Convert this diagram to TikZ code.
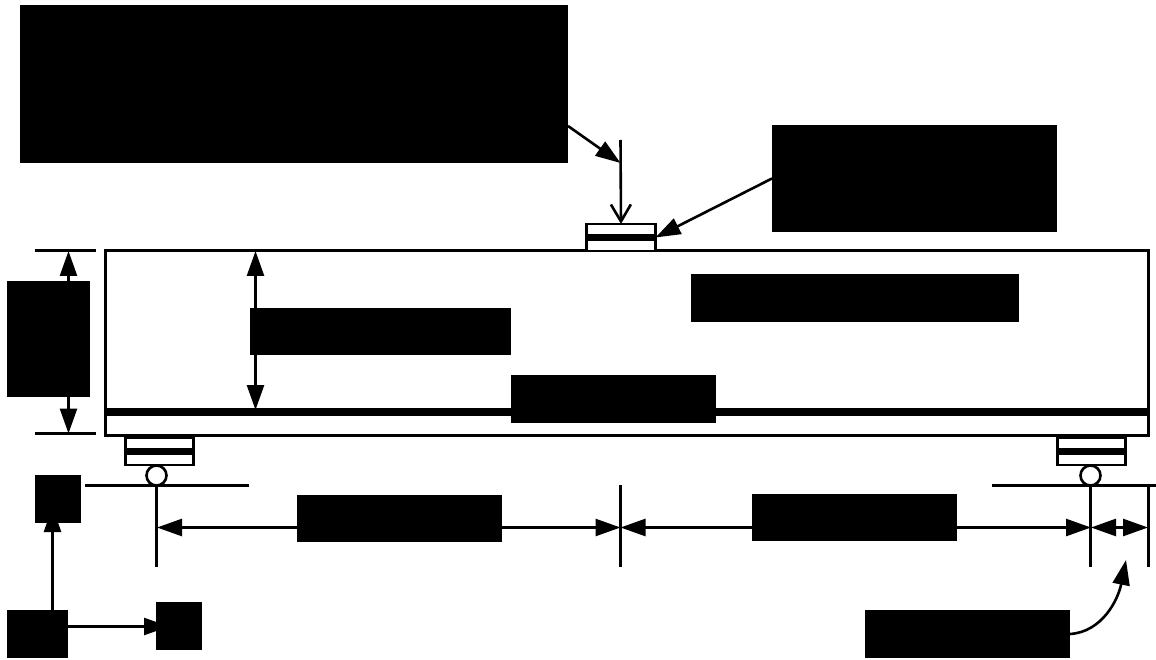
\documentclass[tikz,border=0pt]{standalone}
\usetikzlibrary{arrows.meta}
\pgfdeclarelayer{lines}
\pgfsetlayers{lines,main}
\tikzset{
  blk/.style={fill=black,draw=none,inner sep=0pt,outer sep=0pt,rectangle},
  ln/.style={line width=2.6pt,draw=black},
  dim/.style={ln,-{Triangle[length=25pt,width=17pt]}},
  dimtwo/.style={ln,{Triangle[length=25pt,width=17pt]}-{Triangle[length=25pt,width=17pt]}},
  pad/.style={ln,draw,fill=white,rectangle,inner sep=0pt,outer sep=0pt,minimum width=68pt,minimum height=27pt},
  roller/.style={ln,draw,fill=white,circle,inner sep=0pt,outer sep=0pt,minimum size=20pt},
  band/.style={line width=6.5pt,draw=black,line cap=butt},
}
\begin{document}
\begin{tikzpicture}[x=1pt,y=-1pt]
\useasboundingbox (0,0) rectangle (1156,660);
% opaque label boxes
\node[blk,minimum width=548pt,minimum height=158pt] (A) at (294,84) {};
\node[blk,minimum width=285pt,minimum height=107pt] (B) at (914.5,178.5) {};
\node[blk,minimum width=328pt,minimum height=48pt] (C) at (855,298) {};
\node[blk,minimum width=261pt,minimum height=47pt] (D) at (380.5,331.5) {};
\node[blk,minimum width=205pt,minimum height=48pt] (E) at (613.5,399) {};
\node[blk,minimum width=83pt,minimum height=116pt] (F) at (48.5,339) {};
\node[blk,minimum width=46pt,minimum height=48pt] (G) at (58,499) {};
\node[blk,minimum width=61pt,minimum height=48pt] (H) at (37.5,634) {};
\node[blk,minimum width=46pt,minimum height=48pt] (I) at (179,626) {};
\node[blk,minimum width=205pt,minimum height=47pt] (J) at (399.5,518.5) {};
\node[blk,minimum width=205pt,minimum height=47pt] (K) at (854.5,517.5) {};
\node[blk,minimum width=205pt,minimum height=48pt] (L) at (967.5,634) {};
% named points
\coordinate (aOut) at (568,126);
\coordinate (loadTop) at (620.5,140);
\coordinate (loadHit) at (620.5,163);
\coordinate (hTop) at (52.5,610);
\coordinate (gHit) at (52.5,507);
\coordinate (hRight) at (68,626.5);
\coordinate (iHit) at (169,626.5);
\coordinate (dTop) at (255.5,251);
\coordinate (dBot) at (255.5,410);
\coordinate (fTop) at (68.5,251);
\coordinate (fBot) at (68.5,433.5);
\coordinate (leftV) at (157,527.5);
\coordinate (midV) at (620.5,527.5);
\coordinate (rightV) at (1091,527.5);
\coordinate (endV) at (1148,527.5);
\coordinate (curveTip) at (1126,560);
\begin{pgfonlayer}{lines}
% beam
\draw[ln] (105.5,250.5) rectangle (1148.5,435.5);
\draw[line width=8pt] (105,412) -- (1148,412);
% dimension ticks
\draw[ln] (35,250.5) -- (96,250.5);
\draw[ln] (35,433.5) -- (96,433.5);
\draw[ln] (223,250.5) -- (284,250.5);
% ground lines and verticals
\draw[ln] (85,485.5) -- (249,485.5);
\draw[ln] (992,485.5) -- (1156,485.5);
\draw[ln] (156.5,485) -- (156.5,567);
\draw[ln] (620.5,485) -- (620.5,567);
\draw[ln] (1090.5,485) -- (1090.5,567);
\draw[ln] (1148.5,485) -- (1148.5,567);
% dimensions
\draw[dim] (fTop |- F.north) -- (fTop);
\draw[dim] (fBot |- F.south) -- (fBot);
\draw[dim] (dTop |- D.north) -- (dTop);
\draw[dim] (dBot |- D.south) -- (dBot);
\draw[dim] (leftV -| J.west) -- (leftV);
\draw[dim] (midV -| J.east) -- (midV);
\draw[dim] (midV -| K.west) -- (midV);
\draw[dim] (rightV -| K.east) -- (rightV);
\draw[dimtwo] (rightV) -- (endV);
% axes
\draw[dim] (hTop) -- (gHit);
\draw[dim] (hRight) -- (iHit);
% leaders
\draw[dim] (aOut) -- (loadHit);
\draw[dim] (L.east) .. controls (1102,632) and (1118,600) .. (curveTip);
\end{pgfonlayer}
% pads and rollers
\node[pad,minimum width=69pt] (padT) at (621,237.5) {};
\draw[band] (padT.west) -- (padT.east);
\node[pad] (padL) at (159.5,451.5) {};
\draw[band] (padL.west) -- (padL.east);
\node[pad] (padR) at (1091.5,451.5) {};
\draw[band] (padR.west) -- (padR.east);
\node[roller] (rollL) at (156.5,475.5) {};
\node[roller] (rollR) at (1090.5,475.5) {};
% connectors to top pad
\draw[ln,-{Straight Barb[length=17pt,width=20pt]}] (loadTop) -- (padT.north);
\draw[dim] (B.west) -- (padT.east);
\end{tikzpicture}
\end{document}
